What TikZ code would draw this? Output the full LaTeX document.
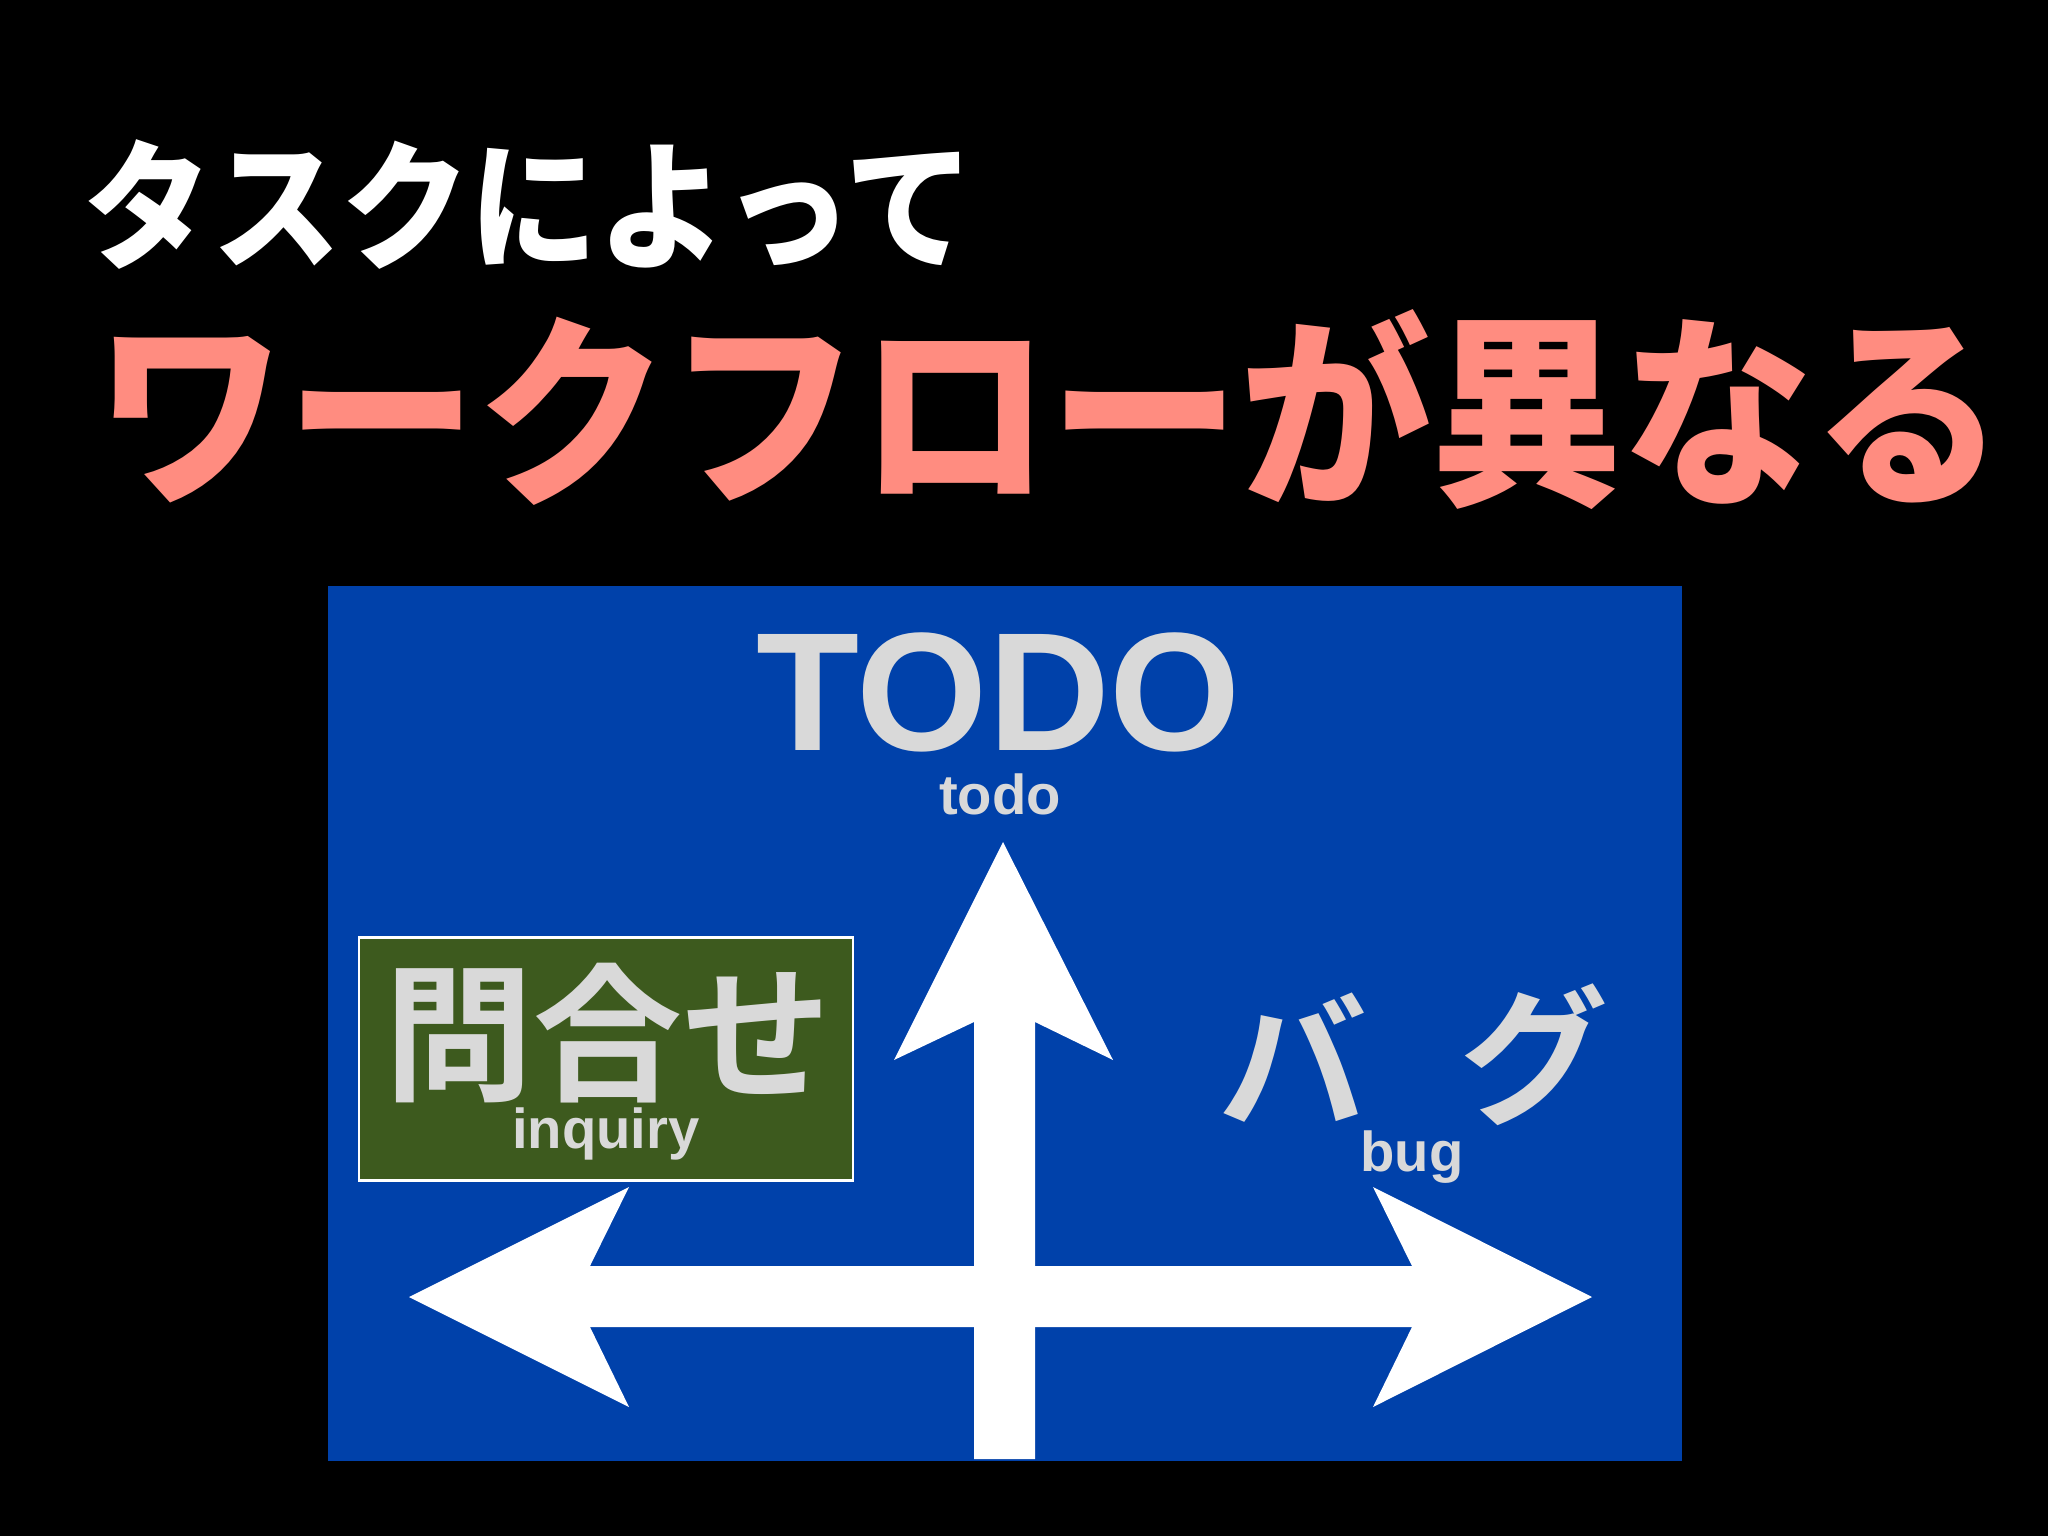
\documentclass[tikz,border=0pt]{standalone}
\usepackage{fontspec}
\setmainfont{Liberation Sans}
\newfontfamily\jptitlefont[FakeStretch=0.92]{Noto Sans CJK JP Black}
\newfontfamily\jpsubtitlefont[FakeStretch=0.93]{Noto Sans CJK JP Black}
\newfontfamily\jpsignfont{Noto Sans CJK JP Bold}
\usepackage{tikz}
\definecolor{signblue}{RGB}{0,65,170}
\definecolor{signgreen}{RGB}{61,90,30}
\definecolor{signgray}{RGB}{217,217,217}
\definecolor{salmon}{RGB}{255,140,128}

\begin{document}
\begin{tikzpicture}[x=0.05cm, y=-0.05cm, every node/.style={inner sep=0pt,outer sep=0pt}, signlabel/.style={text=signgray,font=\bfseries\fontsize{80}{80}\selectfont}, signkana/.style={text=signgray,font=\jpsignfont\fontsize{212}{212}\selectfont}]
\fill[black] (0,0) rectangle (2048,1536);
\node[text=white,font=\jptitlefont\fontsize{199}{199}\selectfont] (title) at (529,205) {タスクによって};
\node[text=salmon,font=\jpsubtitlefont\fontsize{292}{292}\selectfont] (subtitle) at (1050,410) {ワークフローが異なる};
\fill[signblue] (328,586) rectangle (1682,1461);
\fill[white] (1003,842) -- (1113,1060) -- (1035,1022) -- (1035,1459) -- (974,1459) -- (974,1022) -- (894,1060) -- cycle;
\fill[white] (409,1297) -- (629,1187) -- (590,1266) -- (1412,1266) -- (1373,1187) -- (1592,1297) -- (1373,1407) -- (1412,1327) -- (590,1327) -- (629,1407) -- cycle;
\node[text=signgray,font=\bfseries\fontsize{240}{240}\selectfont] (todo) at (999,692) {TODO};
\node[signlabel] (todosub) at (1000,794) {todo};
\node[draw=white,line width=4pt,fill=signgreen,minimum width=24.7cm,minimum height=12.15cm] (inquirybox) at (606,1059.3) {};
\node[signkana] (inquiry) at (608,1033.5) {問合せ};
\node[signlabel] (inquirysub) at (606,1133.7) {inquiry};
\node[signkana] (bugba) at (1293,1058) {バ};
\node[signkana] (buggu) at (1534,1055) {グ};
\node[signlabel] (bugsub) at (1412,1157.5) {bug};
\end{tikzpicture}
\end{document}
